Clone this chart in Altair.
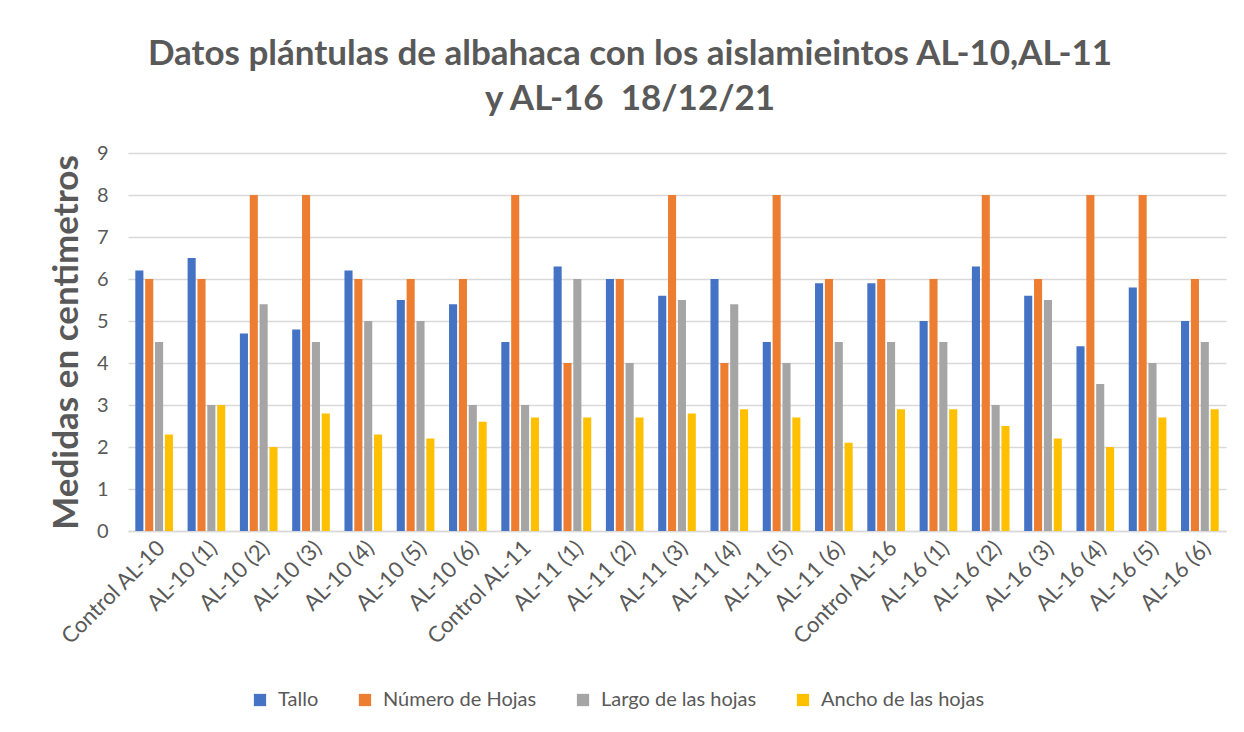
import altair as alt
import pandas as pd

categorias = ["Control AL-10", "AL-10 (1)", "AL-10 (2)", "AL-10 (3)", "AL-10 (4)", "AL-10 (5)", "AL-10 (6)",
              "Control AL-11", "AL-11 (1)", "AL-11 (2)", "AL-11 (3)", "AL-11 (4)", "AL-11 (5)", "AL-11 (6)",
              "Control AL-16", "AL-16 (1)", "AL-16 (2)", "AL-16 (3)", "AL-16 (4)", "AL-16 (5)", "AL-16 (6)"]
tallo = [6.2, 6.5, 4.7, 4.8, 6.2, 5.5, 5.4, 4.5, 6.3, 6.0, 5.6, 6.0, 4.5, 5.9, 5.9, 5.0, 6.3, 5.6, 4.4, 5.8, 5.0]
numero_hojas = [6, 6, 8, 8, 6, 6, 6, 8, 4, 6, 8, 4, 8, 6, 6, 6, 8, 6, 8, 8, 6]
largo_hojas = [4.5, 3.0, 5.4, 4.5, 5.0, 5.0, 3.0, 3.0, 6.0, 4.0, 5.5, 5.4, 4.0, 4.5, 4.5, 4.5, 3.0, 5.5, 3.5, 4.0, 4.5]
ancho_hojas = [2.3, 3.0, 2.0, 2.8, 2.3, 2.2, 2.6, 2.7, 2.7, 2.7, 2.8, 2.9, 2.7, 2.1, 2.9, 2.9, 2.5, 2.2, 2.0, 2.7, 2.9]
ticks_y = [0, 1, 2, 3, 4, 5, 6, 7, 8, 9]

series = ["Tallo", "Número de Hojas", "Largo de las hojas", "Ancho de las hojas"]
colores = ["#4472C4", "#ED7D31", "#A5A5A5", "#FFC000"]

rows = []
for nombre, vals in zip(series, [tallo, numero_hojas, largo_hojas, ancho_hojas]):
    for c, v in zip(categorias, vals):
        rows.append({"categoria": c, "serie": nombre, "valor": v})
df = pd.DataFrame(rows)

FONT = "Lato"
GRIS = "#595959"

chart = alt.Chart(df).mark_bar().encode(
    x=alt.X("categoria:N", sort=categorias, title=None,
            scale=alt.Scale(paddingInner=0.28, paddingOuter=0.14),
            axis=alt.Axis(labelAngle=-45, labelFontSize=22, labelColor=GRIS, labelFont=FONT,
                          ticks=False, domain=True, domainColor="#D9D9D9", domainWidth=1.5,
                          labelPadding=6, labelOverlap=False, labelLimit=300)),
    xOffset=alt.XOffset("serie:N", sort=series, scale=alt.Scale(paddingInner=0.18)),
    y=alt.Y("valor:Q", title="Medidas en centimetros",
            scale=alt.Scale(domain=[0, 9], nice=False, zero=True),
            axis=alt.Axis(values=ticks_y, labelFontSize=20, labelColor=GRIS,
                          labelFont=FONT, ticks=False, domain=False, gridColor="#D9D9D9",
                          gridWidth=1.5, titleFontSize=35, titleFont=FONT, titleColor=GRIS,
                          titleFontWeight="bold", titlePadding=12, labelPadding=20,
                          labelOverlap=False)),
    color=alt.Color("serie:N", sort=series, scale=alt.Scale(domain=series, range=colores),
                    legend=alt.Legend(title=None, orient="none", direction="horizontal",
                                      legendX=122, legendY=537, symbolType="square",
                                      symbolSize=150, symbolStrokeWidth=0, labelFontSize=20,
                                      labelFont=FONT, labelColor=GRIS, columnPadding=36,
                                      labelOffset=8, labelLimit=400)),
).properties(
    width=1098, height=378,
    title=alt.Title(["Datos plántulas de albahaca con los aislamieintos AL-10,AL-11",
                     "y AL-16 \u00a018/12/21"],
                    fontSize=35, font=FONT, fontWeight="bold", color=GRIS, anchor="middle",
                    dx=-47, offset=26, lineHeight=45),
    autosize=alt.AutoSizeParams(type="none"),
    padding={"left": 120, "top": 145, "right": 10, "bottom": 195},
).configure_view(stroke=None)

chart.save("out.html", embed_options={"renderer": "svg", "actions": False})
